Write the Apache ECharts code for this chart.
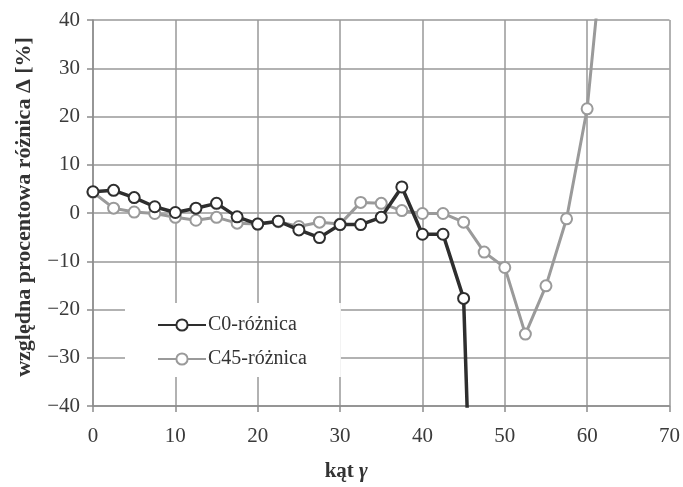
<!DOCTYPE html>
<html><head><meta charset="utf-8">
<script src="https://cdn.jsdelivr.net/npm/echarts@6/dist/echarts.min.js"></script>
<style>html,body{margin:0;padding:0;background:#fff}#c{width:683px;height:487px}</style>
</head><body><div id="c"></div>
<script>
var xC0 = [0,2.5,5,7.5,10,12.5,15,17.5,20,22.5,25,27.5,30,32.5,35,37.5,40,42.5,45,47.5];
var yC0 = [4.4,4.7,3.2,1.3,0.1,1.0,2.0,-0.8,-2.3,-1.7,-3.5,-5.1,-2.4,-2.4,-0.9,5.4,-4.4,-4.4,-17.7,-150];
var xC45 = [0,2.5,5,7.5,10,12.5,15,17.5,20,22.5,25,27.5,30,32.5,35,37.5,40,42.5,45,47.5,50,52.5,55,57.5,60,62.5];
var yC45 = [4.3,1.0,0.2,-0.1,-0.9,-1.5,-0.9,-2.1,-2.3,-1.8,-2.8,-1.9,-2.3,2.2,2.0,0.5,-0.1,-0.1,-1.9,-8.1,-11.3,-25.1,-15.1,-1.2,21.6,65];
var xTicks = [0,10,20,30,40,50,60,70];
var yTicks = [-40,-30,-20,-10,0,10,20,30,40];
var seriesNames = ['C0-różnica','C45-różnica'];
var xName = 'kąt {g|γ}';
var yName = 'względna procentowa różnica Δ [%]';

function pairs(xs, ys){ return xs.map(function(x,i){ return [x, ys[i]]; }); }
var font = '"Liberation Serif","DejaVu Serif",serif';
var chart = echarts.init(document.getElementById('c'));
chart.setOption({
  animation: false,
  backgroundColor: '#fff',
  grid: {left: 93, right: 11, top: 20, bottom: 76, containLabel: false},
  legend: {
    orient: 'vertical', left: 125, top: 303,
    backgroundColor: '#fff', padding: [12, 34, 8, 32],
    itemWidth: 48, itemHeight: 14, itemGap: 14,
    textStyle: {fontFamily: font, fontSize: 20, color: '#333', padding: [0, 0, 0, -3]},
    data: seriesNames
  },
  xAxis: {
    type: 'value', min: xTicks[0], max: xTicks[xTicks.length-1], interval: 10,
    name: xName, nameLocation: 'middle', nameGap: 55,
    nameTextStyle: {fontFamily: font, fontSize: 21, fontWeight: 'bold', color: '#333',
      padding: [0, 70, 0, 0],
      rich: {g: {fontFamily: font, fontSize: 21, fontWeight: 'bold', fontStyle: 'italic', color: '#333'}}},
    axisLine: {show: true, onZero: false, lineStyle: {color: '#8c8c8c', width: 1.5}},
    axisTick: {show: true, length: 6, lineStyle: {color: '#8c8c8c', width: 1.5}},
    axisLabel: {fontFamily: font, fontSize: 21, color: '#3a3a3a', margin: 20},
    splitLine: {show: true, lineStyle: {color: '#999', width: 1.5}}
  },
  yAxis: {
    type: 'value', min: yTicks[0], max: yTicks[yTicks.length-1], interval: 10,
    name: yName, nameLocation: 'middle', nameGap: 58, nameRotate: 90,
    nameTextStyle: {fontFamily: font, fontSize: 22, fontWeight: 'bold', color: '#333',
      padding: [0, 0, 0, 12]},
    axisLine: {show: true, onZero: false, lineStyle: {color: '#8c8c8c', width: 1.5}},
    axisTick: {show: true, length: 6, lineStyle: {color: '#8c8c8c', width: 1.5}},
    axisLabel: {fontFamily: font, fontSize: 21, color: '#3a3a3a', margin: 13,
      formatter: function(v){ return String(v).replace('-', '\u2212'); }},
    splitLine: {show: true, lineStyle: {color: '#999', width: 1.5}}
  },
  series: [
    {
      name: seriesNames[1], type: 'line', data: pairs(xC45, yC45), clip: true,
      symbol: 'circle', symbolSize: 11, z: 2,
      lineStyle: {color: '#9a9a9a', width: 3},
      itemStyle: {color: '#fff', borderColor: '#9a9a9a', borderWidth: 2}
    },
    {
      name: seriesNames[0], type: 'line', data: pairs(xC0, yC0), clip: true,
      symbol: 'circle', symbolSize: 11, z: 3,
      lineStyle: {color: '#2e2e2e', width: 3.5},
      itemStyle: {color: '#fff', borderColor: '#2e2e2e', borderWidth: 2}
    }
  ]
});
</script></body></html>
